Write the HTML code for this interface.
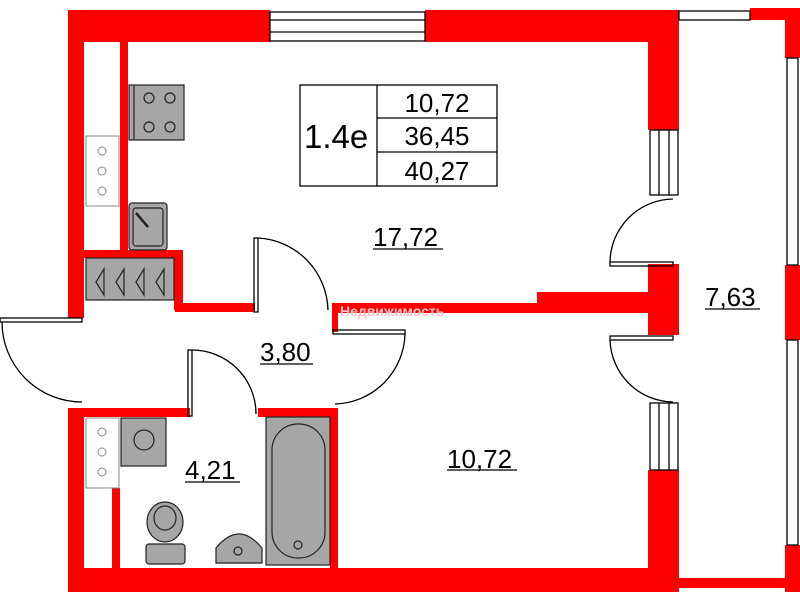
<!DOCTYPE html>
<html><head><meta charset="utf-8"><style>
html,body{margin:0;padding:0;background:#fff;}
svg{display:block;}
text{font-family:"Liberation Sans",sans-serif;fill:#000;}
</style></head><body>
<svg width="800" height="600" viewBox="0 0 800 600" xmlns="http://www.w3.org/2000/svg">
<g fill="#ff0000">
<rect x="68" y="10" width="202" height="32"/>
<rect x="425" y="10" width="254" height="32"/>
<rect x="648" y="10" width="31" height="120"/>
<rect x="648" y="264" width="31" height="71"/>
<rect x="648" y="470" width="31" height="122"/>
<rect x="750" y="8" width="50" height="12"/>
<rect x="785" y="8" width="15" height="50"/>
<rect x="785" y="265" width="15" height="75"/>
<rect x="785" y="545" width="15" height="47"/>
<rect x="679" y="578" width="106" height="10"/>
<rect x="68" y="10" width="16" height="308"/>
<rect x="120" y="42" width="8" height="208"/>
<rect x="84" y="250" width="99" height="8"/>
<rect x="174" y="250" width="9" height="60"/>
<rect x="175" y="303" width="80" height="9"/>
<rect x="332" y="303" width="205" height="10"/>
<rect x="332" y="303" width="6" height="29"/>
<rect x="537" y="292" width="113" height="21"/>
<rect x="68" y="408" width="122" height="9"/>
<rect x="258" y="408" width="80" height="9"/>
<rect x="330" y="408" width="8" height="164"/>
<rect x="68" y="408" width="16" height="184"/>
<rect x="112" y="488" width="8" height="84"/>
<rect x="68" y="568" width="611" height="24"/>
</g>
<g fill="none" stroke="#000" stroke-width="1.3">
<rect x="270" y="12" width="155" height="29"/>
<line x1="270" y1="20" x2="425" y2="20"/><line x1="270" y1="32" x2="425" y2="32"/>
<rect x="679" y="11" width="71" height="9"/>
<rect x="650" y="130" width="28" height="65"/>
<line x1="659" y1="130" x2="659" y2="195"/><line x1="669" y1="130" x2="669" y2="195"/>
<rect x="650" y="403" width="28" height="67"/>
<line x1="659" y1="403" x2="659" y2="470"/><line x1="669" y1="403" x2="669" y2="470"/>
<rect x="787" y="58" width="11" height="207"/>
<rect x="787" y="340" width="11" height="205"/>
<path d="M673 199 A64 64 0 0 0 610 262"/>
<rect x="610" y="262" width="63" height="4"/>
<rect x="610" y="336" width="63" height="4"/>
<path d="M610 340 A64 64 0 0 0 673 402"/>
<rect x="0" y="318" width="82" height="4"/>
<path d="M2 322 A80 80 0 0 0 82 402"/>
<rect x="254" y="238" width="4" height="74"/>
<path d="M258 238 A74 74 0 0 1 328 310"/>
<rect x="333" y="330" width="72" height="4"/>
<path d="M405 334 A72 72 0 0 1 335 404"/>
<rect x="188" y="350" width="4" height="66"/>
<path d="M192 350 A64 64 0 0 1 256 414"/>
<rect x="300" y="85" width="197" height="101"/>
<line x1="377" y1="85" x2="377" y2="186"/>
<line x1="377" y1="118" x2="497" y2="118"/><line x1="377" y1="152" x2="497" y2="152"/>
</g>
<g fill="#fff" stroke="#888" stroke-width="1">
<rect x="86" y="136" width="33" height="70"/>
<circle cx="102" cy="151" r="4"/><circle cx="102" cy="171" r="4"/><circle cx="102" cy="191" r="4"/>
<rect x="86" y="418" width="33" height="70"/>
<circle cx="102" cy="432" r="4"/><circle cx="102" cy="452" r="4"/><circle cx="102" cy="472" r="4"/>
</g>
<g fill="#a6a6a6" stroke="#222" stroke-width="1.2">
<rect x="129" y="85" width="55" height="55"/>
<line x1="134" y1="85" x2="134" y2="140"/>
<circle cx="149" cy="98" r="5"/><circle cx="170" cy="98" r="5"/>
<circle cx="149" cy="127" r="5"/><circle cx="170" cy="127" r="5"/>
<rect x="129" y="203" width="38" height="47" rx="3"/>
<rect x="133" y="208" width="30" height="38" rx="3"/>
<line x1="136" y1="213" x2="148" y2="227" stroke-width="2.5"/>
<rect x="86" y="258" width="88" height="42"/>
<path d="M104 269 L96 282 L104 295 Z M124 269 L116 282 L124 295 Z M144 269 L136 282 L144 295 Z M164 269 L156 282 L164 295 Z"/>
<rect x="121" y="418" width="45" height="48"/>
<circle cx="144" cy="440" r="10"/>
<rect x="266" y="417" width="64" height="148"/>
<rect x="272" y="424" width="53" height="134" rx="26"/>
<circle cx="298" cy="545" r="4"/>
<ellipse cx="165" cy="522" rx="18" ry="20"/>
<ellipse cx="165" cy="518" rx="11" ry="12"/>
<rect x="146" y="544" width="39" height="20" rx="3"/>
<path d="M216 563 L216 548 Q239 520 262 548 L262 563 Z"/>
<circle cx="238" cy="551" r="4"/>
</g>
<text x="340" y="316" font-size="14" font-weight="bold" style="fill:#ffc4c4">Недвижимость</text>
<text x="304" y="148" font-size="33">1.4e</text>
<g font-size="26" text-anchor="middle">
<text x="437" y="112">10,72</text>
<text x="437" y="145">36,45</text>
<text x="437" y="180">40,27</text>
</g>
<g font-size="26">
<text x="373" y="246">17,72</text>
<text x="260" y="361">3,80</text>
<text x="185" y="479">4,21</text>
<text x="447" y="468">10,72</text>
<text x="705" y="306">7,63</text>
</g>
<g stroke="#000" stroke-width="1.3">
<line x1="373" y1="249" x2="443" y2="249"/>
<line x1="260" y1="364" x2="313" y2="364"/>
<line x1="185" y1="482" x2="240" y2="482"/>
<line x1="447" y1="470" x2="517" y2="470"/>
<line x1="705" y1="309" x2="760" y2="309"/>
</g>
</svg>
</body></html>
